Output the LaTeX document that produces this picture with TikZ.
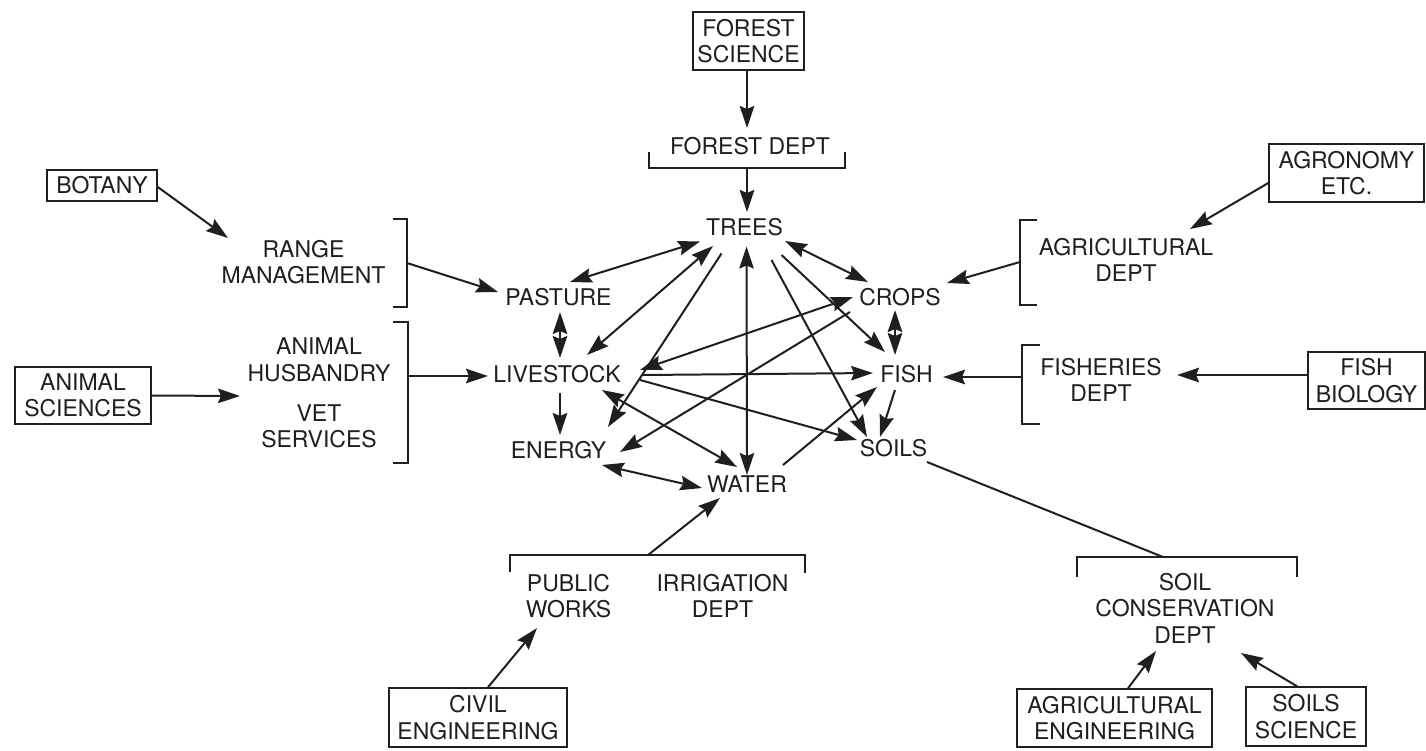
\documentclass[tikz,border=0pt]{standalone}
\usepackage{fontspec}
\setmainfont{TeX Gyre Heros}
\usetikzlibrary{arrows.meta}
\definecolor{ink}{gray}{0.12}
\begin{document}
\begin{tikzpicture}[x=1pt,y=-1pt,
  font=\fontsize{23}{26.5}\selectfont,
  every node/.style={text=ink, inner sep=0pt},
  lbl/.style={align=center},
  box/.style={draw=ink, line width=1.5pt, align=center},
  ln/.style={draw=ink, line width=2pt},
  tip/.tip={Stealth[length=22pt,width=14.5pt,inset=3pt]},
  arr/.style={ln, -tip},
  dbl/.style={ln, tip-tip},
  brk/.style={draw=ink, line width=1.6pt}
]
\useasboundingbox[fill=white] (0,0) rectangle (1426,750);

% central nodes
\node[lbl] (trees) at (744.5,227.5) {TREES};
\node[lbl] (pasture) at (558.5,297.5) {PASTURE};
\node[lbl] (livestock) at (557,374.5) {LIVESTOCK};
\node[lbl] (energy) at (558.5,450) {ENERGY};
\node[lbl] (water) at (747,484.5) {WATER};
\node[lbl] (crops) at (900,297) {CROPS};
\node[lbl] (fish) at (906.5,374) {FISH};
\node[lbl] (soils) at (893.5,448.5) {SOILS};

% central connectors
\draw[dbl] ([shift={(-44.5,14)}]trees.center) -- ([shift={(11.5,-15.5)}]pasture.center);
\draw[dbl] ([shift={(-31.5,18.5)}]trees.center) -- ([shift={(30,-19.5)}]livestock.center);
\draw[arr] ([shift={(-23,26)}]trees.center) -- ([shift={(49.5,-23)}]energy.center);
\draw[dbl] ([shift={(2,19)}]trees.center) -- ([shift={(0,-9.5)}]water.center);
\draw[arr] ([shift={(27,32.5)}]trees.center) -- ([shift={(-26.5,-11.5)}]soils.center);
\draw[arr] ([shift={(37,27.5)}]trees.center) -- ([shift={(-21.5,-22)}]fish.center);
\draw[dbl] ([shift={(40.5,13.5)}]trees.center) -- ([shift={(-32,-15)}]crops.center);
\draw[dbl] ([shift={(-47,0)}]crops.center) -- ([shift={(83,-4.5)}]livestock.center);
\draw[arr] ([shift={(-50,15)}]crops.center) -- ([shift={(61.5,2)}]energy.center);
\draw[arr] ([shift={(86,0.5)}]livestock.center) -- ([shift={(-33.5,-1)}]fish.center);
\draw[arr] ([shift={(83,5.5)}]livestock.center) -- ([shift={(-36.5,-8.5)}]soils.center);
\draw[dbl] ([shift={(45,15.5)}]livestock.center) -- ([shift={(-10,-17.5)}]water.center);
\draw[arr] ([shift={(3,18.5)}]livestock.center) -- ([shift={(1.5,-15)}]energy.center);
\draw[dbl] ([shift={(1.5,14.5)}]pasture.center) -- ([shift={(3,-16.5)}]livestock.center);
\draw[dbl] ([shift={(43.5,15)}]energy.center) -- ([shift={(-45,3.5)}]water.center);
\draw[arr] ([shift={(36,-19.5)}]water.center) -- ([shift={(-29.5,13)}]fish.center);
\draw[dbl] ([shift={(-5,13)}]crops.center) -- ([shift={(-11.5,-19)}]fish.center);
\draw[arr] ([shift={(-11.5,16)}]fish.center) -- ([shift={(-13.5,-11.5)}]soils.center);

% forest
\node[box, minimum width=111, minimum height=58] (fsci) at (748.5,41) {FOREST\\SCIENCE};
\node[lbl] (fdept) at (750,146.5) {FOREST DEPT};
\draw[arr] ([shift={(-1.5,0)}]fsci.south) -- ([shift={(-3,-18.5)}]fdept.center);
\draw[brk] (649,152) -- (649,168) -- (845,168) -- (845,152);
\coordinate (fdb) at (747,168);
\draw[arr] (fdb) -- ([shift={(2.5,-15.5)}]trees.center);

% botany / range
\node[box, minimum width=110, minimum height=31] (botany) at (102,185.5) {BOTANY};
\node[lbl] (range) at (303.5,262) {RANGE\\MANAGEMENT};
\draw[arr] ([shift={(0,1.5)}]botany.east) -- ([shift={(-75.5,-24)}]range.center);
\draw[brk] (393,219) -- (407,219) -- (407,307) -- (393,307);
\coordinate (rmb) at (407,263);
\draw[arr] (rmb) -- ([shift={(-60.5,-5.5)}]pasture.center);

% animal
\node[box, minimum width=136, minimum height=57] (anisci) at (83,395.5) {ANIMAL\\SCIENCES};
\node[lbl] (ahvs) at (319,393) {ANIMAL\\HUSBANDRY\\[13.5pt]VET\\SERVICES};
\draw[arr] (anisci.east) -- ([shift={(-79,3)}]ahvs.center);
\draw[brk] (393,322) -- (408,322) -- (408,463) -- (393,463);
\coordinate (ahb) at (408,376);
\draw[arr] (ahb) -- ([shift={(-69,1.5)}]livestock.center);

% agronomy
\node[box, minimum width=155, minimum height=58] (agron) at (1346.5,173) {AGRONOMY\\ETC.};
\node[lbl] (agdept) at (1126,260) {AGRICULTURAL\\DEPT};
\draw[arr] ([shift={(0,10)}]agron.west) -- ([shift={(64,-31)}]agdept.center);
\draw[brk] (1037,220) -- (1020,220) -- (1020,305) -- (1037,305);
\coordinate (adb) at (1020,262);
\draw[arr] (adb) -- ([shift={(47,-14)}]crops.center);

% fisheries
\node[lbl] (fisheries) at (1101,380) {FISHERIES\\DEPT};
\node[box, minimum width=117, minimum height=57] (fbio) at (1366.5,380.5) {FISH\\BIOLOGY};
\draw[arr] ([shift={(0,-5.5)}]fbio.west) -- ([shift={(76,-5)}]fisheries.center);
\draw[brk] (1040,345) -- (1022,345) -- (1022,424) -- (1040,424);
\coordinate (fsb) at (1022,377);
\draw[arr] (fsb) -- ([shift={(36.5,3)}]fish.center);

% public works / irrigation
\draw[brk] (510,572) -- (510,555) -- (805,555) -- (805,573);
\coordinate (pwb) at (648,555);
\draw[arr] (pwb) -- ([shift={(-27,13.5)}]water.center);
\node[lbl] (pworks) at (568.5,596) {PUBLIC\\WORKS};
\node[lbl] (irrig) at (722.5,596) {IRRIGATION\\DEPT};
\node[box, minimum width=178, minimum height=59] (civil) at (478,717.5) {CIVIL\\ENGINEERING};
\draw[arr] ([shift={(10,0)}]civil.north) -- ([shift={(-31.5,32)}]pworks.center);

% soil conservation
\draw[brk] (1077,577) -- (1077,557) -- (1297,557) -- (1297,577);
\coordinate (scdb) at (1163,557);
\draw[ln] ([shift={(33.5,13.5)}]soils.center) -- (scdb);
\node[lbl] (scd) at (1185,608) {SOIL\\CONSERVATION\\DEPT};
\node[box, minimum width=195, minimum height=58] (ageng) at (1114.5,718) {AGRICULTURAL\\ENGINEERING};
\node[box, minimum width=120, minimum height=59] (soilsci) at (1306,716.5) {SOILS\\SCIENCE};
\draw[arr] ([shift={(13.5,0)}]ageng.north) -- ([shift={(-29,43)}]scd.center);
\draw[arr] ([shift={(-9,0)}]soilsci.north) -- ([shift={(56,45)}]scd.center);
\end{tikzpicture}
\end{document}
